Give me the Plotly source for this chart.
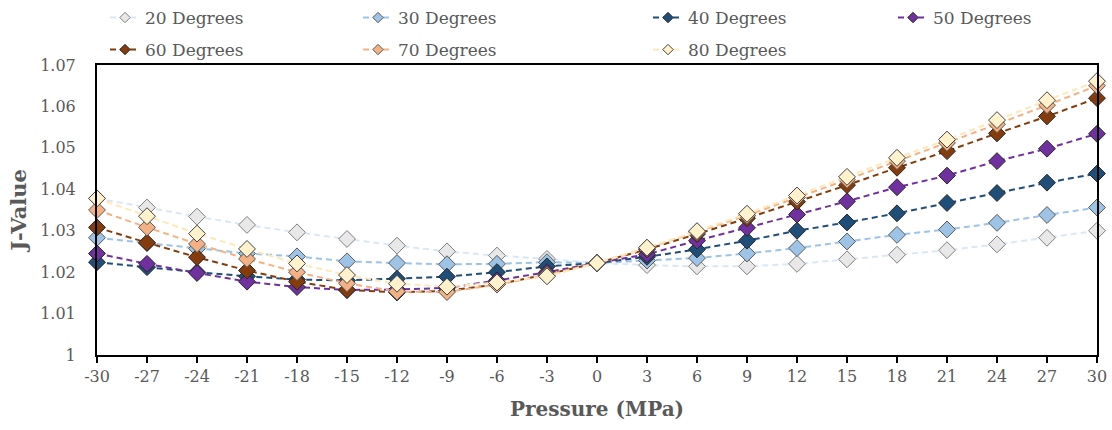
import plotly.graph_objects as go

pressure = [-30, -27, -24, -21, -18, -15, -12, -9, -6, -3, 0, 3, 6, 9, 12, 15, 18, 21, 24, 27, 30]

deg20 = [1.0378, 1.0356, 1.0334, 1.0314, 1.0296, 1.0280, 1.0264, 1.0250, 1.0240, 1.0232, 1.0222,
         1.0217, 1.0214, 1.0214, 1.0220, 1.0231, 1.0242, 1.0253, 1.0267, 1.0283, 1.0300]
deg30 = [1.0283, 1.0270, 1.0257, 1.0245, 1.0238, 1.0226, 1.0222, 1.0219, 1.0220, 1.0224, 1.0222,
         1.0228, 1.0234, 1.0245, 1.0258, 1.0274, 1.0290, 1.0303, 1.0319, 1.0338, 1.0356]
deg40 = [1.0224, 1.0212, 1.0200, 1.0190, 1.0182, 1.0180, 1.0184, 1.0189, 1.0200, 1.0214, 1.0222,
         1.0237, 1.0255, 1.0276, 1.0300, 1.0320, 1.0342, 1.0367, 1.0391, 1.0416, 1.0438]
deg50 = [1.0245, 1.0220, 1.0198, 1.0177, 1.0164, 1.0157, 1.0158, 1.0162, 1.0180, 1.0200, 1.0222,
         1.0243, 1.0276, 1.0307, 1.0339, 1.0371, 1.0405, 1.0433, 1.0468, 1.0498, 1.0534]
deg60 = [1.0308, 1.0271, 1.0236, 1.0204, 1.0177, 1.0157, 1.0151, 1.0155, 1.0170, 1.0195, 1.0222,
         1.0255, 1.0292, 1.0330, 1.0370, 1.0410, 1.0452, 1.0492, 1.0535, 1.0576, 1.0620]
deg70 = [1.0350, 1.0308, 1.0268, 1.0232, 1.0200, 1.0173, 1.0153, 1.0152, 1.0170, 1.0193, 1.0222,
         1.0258, 1.0297, 1.0337, 1.0380, 1.0423, 1.0468, 1.0512, 1.0557, 1.0603, 1.0650]
deg80 = [1.0378, 1.0335, 1.0293, 1.0256, 1.0221, 1.0193, 1.0172, 1.0165, 1.0175, 1.0190, 1.0222,
         1.0259, 1.0299, 1.0341, 1.0385, 1.0430, 1.0476, 1.0520, 1.0567, 1.0615, 1.0661]

series_names = ["20 Degrees", "30 Degrees", "40 Degrees", "50 Degrees", "60 Degrees", "70 Degrees", "80 Degrees"]
series_values = [deg20, deg30, deg40, deg50, deg60, deg70, deg80]
line_colors = ["#dae8f6", "#9dc3e6", "#1f4e79", "#7030a0", "#843c0c", "#f4b183", "#ffe8b8"]
fill_colors = ["#e8e8e8", "#9dc3e6", "#1f4e79", "#7030a0", "#843c0c", "#f4b183", "#fff2cc"]
outline_colors = ["#7f7f7f", "#595959", "#262626", "#262626", "#262626", "#595959", "#404040"]

x_ticks = list(range(-30, 31, 3))
y_ticks = [1, 1.01, 1.02, 1.03, 1.04, 1.05, 1.06, 1.07]
y_ticklabels = ["1", "1.01", "1.02", "1.03", "1.04", "1.05", "1.06", "1.07"]

FONT = "DejaVu Serif"
GRAY = "#595959"

W, H = 1112, 430
ML, MR, MT, MB = 97, 15, 65, 75

# legend layout (pixel positions of each entry's text start and row centre)
legend_text_x = [145, 398, 688, 933, 145, 398, 688]
legend_row_y = [18, 18, 18, 18, 50, 50, 50]

fig = go.Figure()

for name, vals, lc, fc, oc in zip(series_names, series_values, line_colors, fill_colors, outline_colors):
    fig.add_trace(go.Scatter(
        x=pressure, y=vals, mode="lines+markers", name=name, showlegend=False,
        line=dict(color=lc, width=2, dash="6px,4px"),
        marker=dict(symbol="diamond", size=13, color=fc, line=dict(color=oc, width=1)),
        cliponaxis=False,
    ))

legends = {}
for i, (name, lc, fc, oc) in enumerate(zip(series_names, line_colors, fill_colors, outline_colors)):
    lid = "legend" if i == 0 else f"legend{i + 1}"
    fig.add_trace(go.Scatter(
        x=[None], y=[None], mode="lines+markers", name=name, showlegend=True,
        legend=lid,
        line=dict(color=lc, width=2, dash="6px,4px"),
        marker=dict(symbol="diamond", size=8, color=fc, line=dict(color=oc, width=1)),
    ))
    legends[lid] = dict(
        orientation="h", xanchor="left", yanchor="middle",
        xref="container", yref="container",
        x=(legend_text_x[i] - 40) / W,
        y=1 - legend_row_y[i] / H,
        font=dict(family=FONT, size=17, color=GRAY),
        bgcolor="rgba(0,0,0,0)", borderwidth=0,
    )

fig.update_layout(
    width=W, height=H,
    margin=dict(l=ML, r=MR, t=MT, b=MB, autoexpand=False),
    paper_bgcolor="white", plot_bgcolor="white",
    font=dict(family=FONT, color=GRAY, size=16),
    xaxis=dict(
        range=[-30, 30], tickvals=x_ticks, ticktext=[str(t) for t in x_ticks],
        showgrid=False, zeroline=False,
        showline=True, linecolor="black", linewidth=2, mirror=True,
        ticks="outside", ticklen=6, tickwidth=2, tickcolor="black",
        tickfont=dict(family=FONT, size=16, color=GRAY),
        title=dict(text="<b>Pressure (MPa)</b>", font=dict(family=FONT, size=20, color=GRAY), standoff=17),
    ),
    yaxis=dict(
        range=[1, 1.07], tickvals=y_ticks, ticktext=y_ticklabels,
        showgrid=False, zeroline=False,
        showline=True, linecolor="black", linewidth=2, mirror=True,
        ticks="", ticklen=0, ticklabelstandoff=16,
        tickfont=dict(family=FONT, size=16, color=GRAY),
        title=dict(text="<b>J-Value</b>", font=dict(family=FONT, size=21, color=GRAY), standoff=8),
    ),
    **legends,
)

fig.write_html("out.html")
